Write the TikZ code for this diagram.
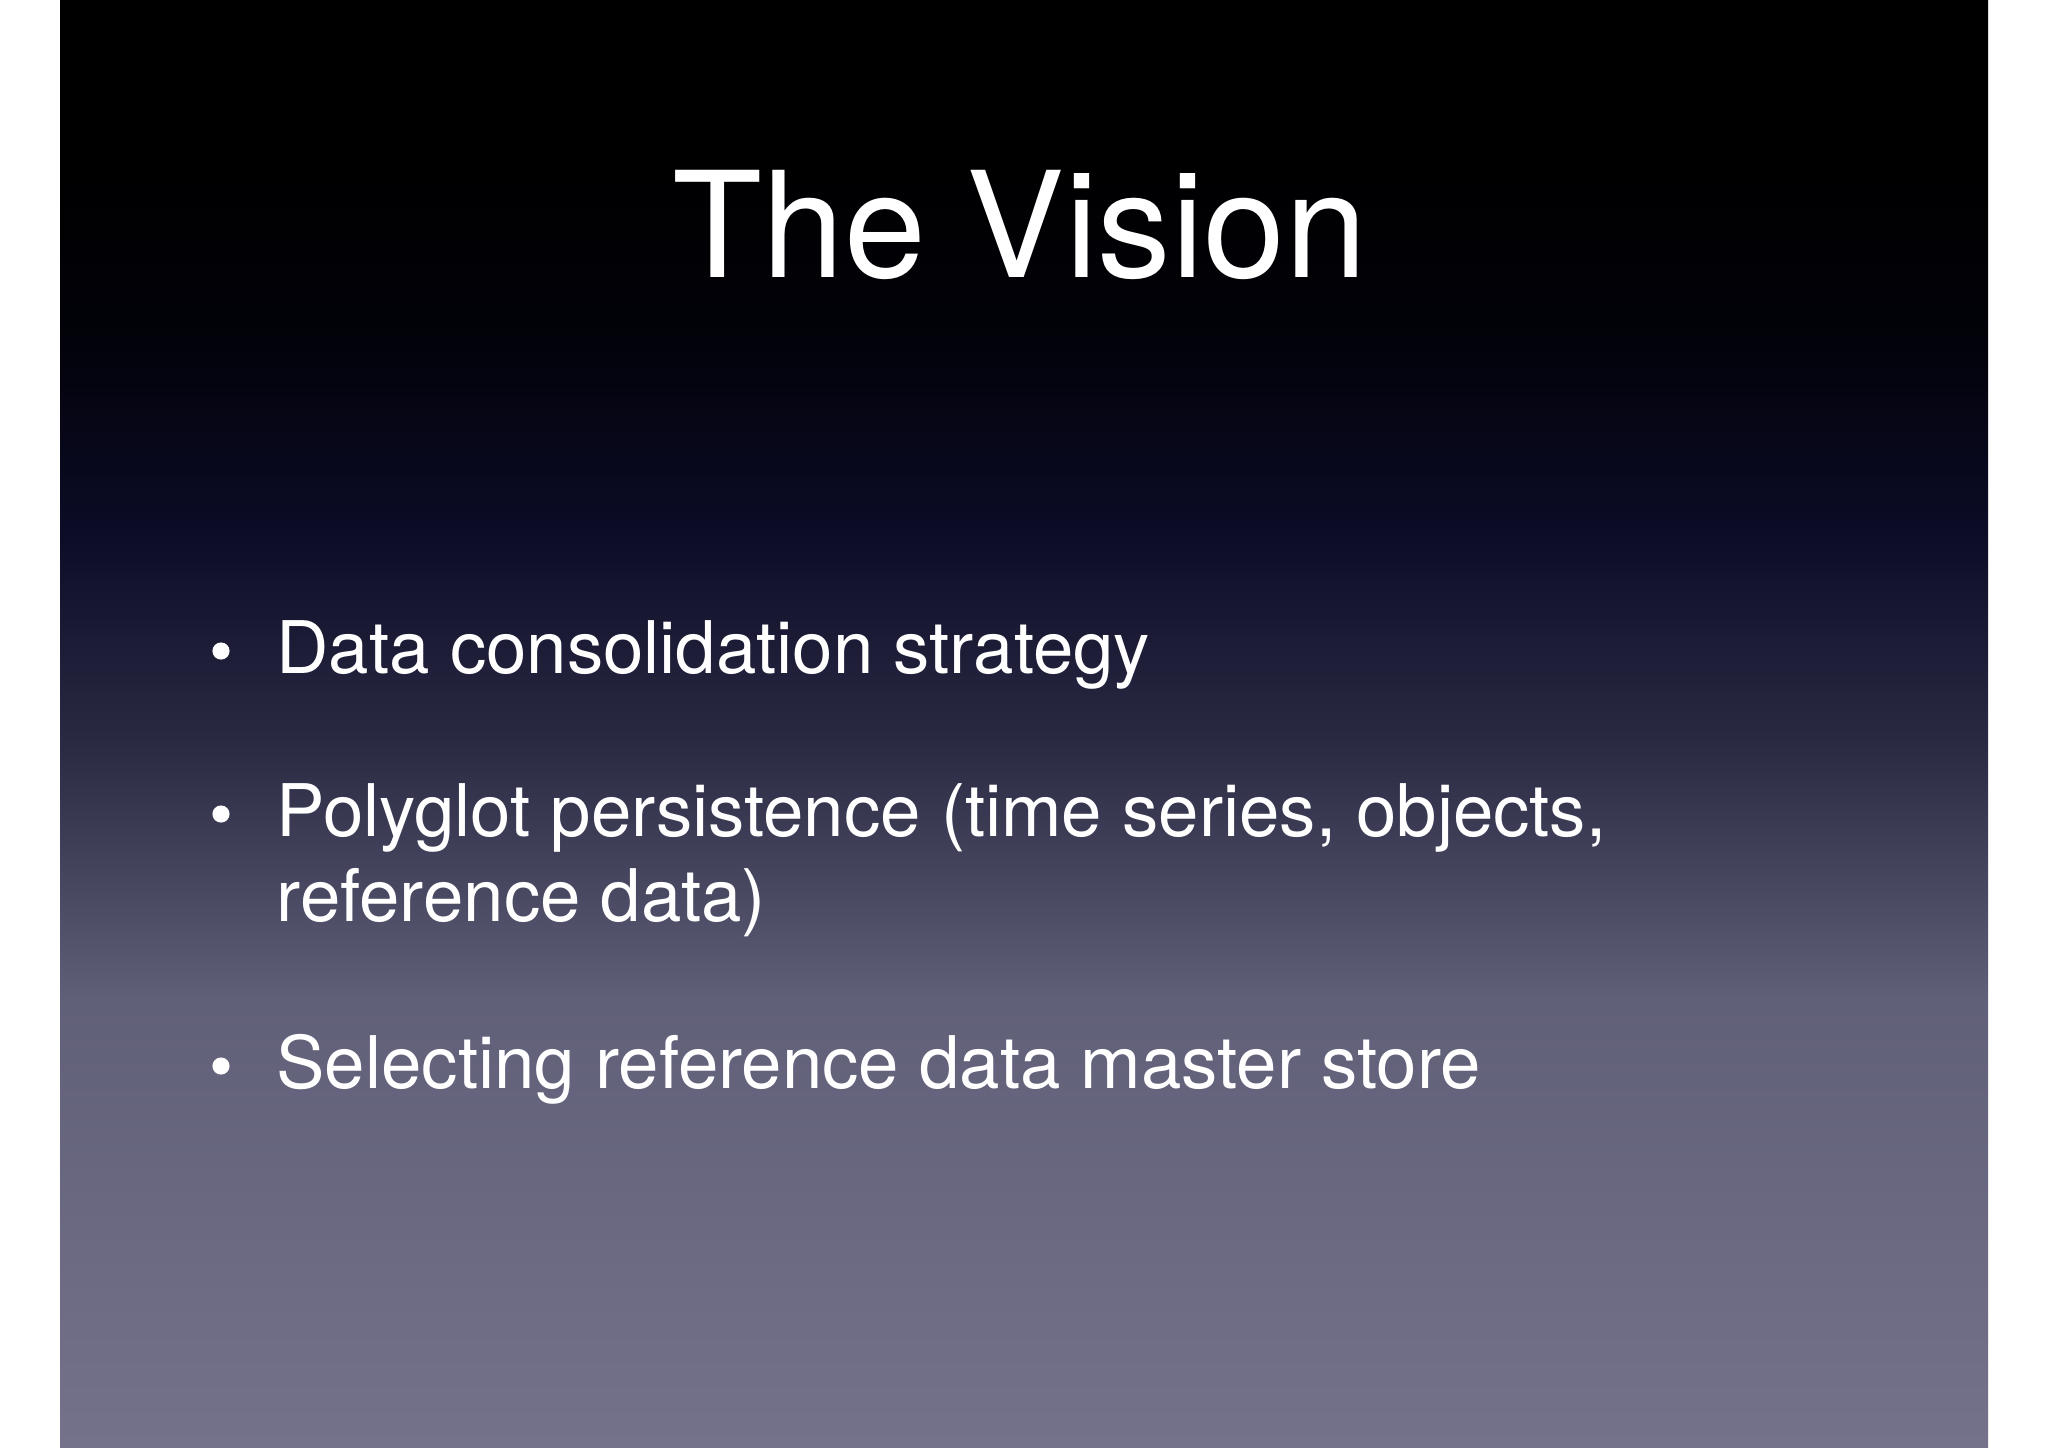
\documentclass[tikz,border=0pt]{standalone}
\usepackage{fontspec}
\setmainfont{TeX Gyre Heros}
\pgfdeclareverticalshading{slidebg}{100bp}{
 rgb(0bp)=(0.455,0.447,0.541);
 rgb(25bp)=(0.455,0.447,0.541);
 rgb(40.4bp)=(0.38,0.375,0.475);
 rgb(49bp)=(0.17,0.17,0.27);
 rgb(56.7bp)=(0.045,0.045,0.15);
 rgb(63.6bp)=(0.006,0.006,0.035);
 rgb(69.8bp)=(0,0,0);
 rgb(100bp)=(0,0,0)}
\begin{document}
\begin{tikzpicture}[x=0.35pt,y=-0.35pt,
  bullet/.style={anchor=base west,text=white,font=\fontsize{25.4}{30}\selectfont,inner sep=0},
  dot/.style={circle,fill=white,inner sep=0,minimum size=6pt}]
\useasboundingbox (0,0) rectangle (2048,1447);
\fill[white] (0,0) rectangle (2048,1447);
\shade[shading=slidebg] (60,0) rectangle (1988,1447);
\node[anchor=base,text=white,font=\fontsize{51.5}{60}\selectfont,inner sep=0] (title) at (1020,277) {The Vision};
\node[bullet] (b1) at (276,673) {Data consolidation strategy};
\node[bullet] (b2) at (276,836) {Polyglot persistence (time series, objects,};
\node[bullet] (b2b) at (276,921) {reference data)};
\node[bullet] (b3) at (276,1088) {Selecting reference data master store};
\node[dot] (d1) at (221,651) {};
\node[dot] (d2) at (221,814) {};
\node[dot] (d3) at (221,1066) {};
\end{tikzpicture}
\end{document}
